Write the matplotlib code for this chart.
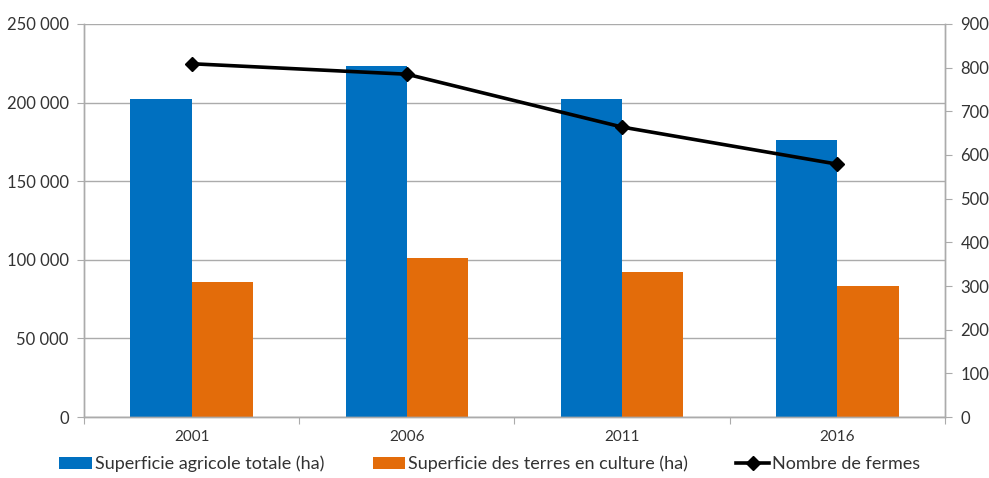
import matplotlib.pyplot as plt
from matplotlib.ticker import FuncFormatter, MultipleLocator
import numpy as np

# data
years = ['2001', '2006', '2011', '2016']
superficie_totale = [202000, 223500, 202000, 176200]
terres_culture = [86000, 101000, 92200, 83300]
nombre_fermes = [809, 785, 664, 579]

blue = '#0070C0'
orange = '#E36C0A'
grid_col = '#ABABAB'
txt_col = '#333333'
fam = ['Lato', 'DejaVu Sans']

fig = plt.figure(figsize=(9.89, 4.78), dpi=100)
ax = fig.add_axes([0.0849, 0.1276, 0.8706, 0.8222])
ax2 = ax.twinx()

x = np.arange(len(years))
w = 0.285
ax.bar(x - w / 2, superficie_totale, w, color=blue, zorder=2,
       label='Superficie agricole totale (ha)')
ax.bar(x + w / 2, terres_culture, w, color=orange, zorder=2,
       label='Superficie des terres en culture (ha)')
ax2.plot(x, nombre_fermes, color='black', lw=2.6, marker='D', markersize=7,
         label='Nombre de fermes')

ax.set_xlim(-0.5, len(years) - 0.5)
ax.set_ylim(0, 250000)
ax.yaxis.set_major_locator(MultipleLocator(50000))
ax.yaxis.set_major_formatter(FuncFormatter(lambda v, p: f'{int(v):,}'.replace(',', ' ')))
ax.grid(axis='y', color=grid_col, lw=1, zorder=0)
ax.set_axisbelow(True)

ax2.set_ylim(0, 900)
ax2.yaxis.set_major_locator(MultipleLocator(100))

# category boundaries as major ticks, labels on minor
ax.set_xticks(np.arange(-0.5, len(years), 1.0))
ax.set_xticklabels([])
ax.set_xticks(x, minor=True)
ax.set_xticklabels(years, minor=True, family=fam, fontsize=11, color=txt_col)
ax.tick_params(axis='x', which='major', length=5, color=grid_col, direction='out')
ax.tick_params(axis='x', which='minor', length=0, pad=9)

for a in (ax, ax2):
    a.tick_params(axis='y', length=5, color=grid_col, labelsize=12,
                  labelcolor=txt_col, pad=6)
    for lab in a.get_yticklabels():
        lab.set_family(fam)
    a.spines['top'].set_visible(False)
    for s in ('left', 'right', 'bottom'):
        a.spines[s].set_color(grid_col)
        a.spines[s].set_linewidth(1)

h1, l1 = ax.get_legend_handles_labels()
h2, l2 = ax2.get_legend_handles_labels()
fig.legend(h1 + h2, l1 + l2, loc='lower center', bbox_to_anchor=(0.495, -0.022),
           ncol=3, frameon=False, prop={'family': fam, 'size': 13},
           handlelength=1.8, handleheight=0.6, handletextpad=0.15,
           columnspacing=2.7, labelcolor=txt_col)

fig.savefig('out.png', dpi=100)
